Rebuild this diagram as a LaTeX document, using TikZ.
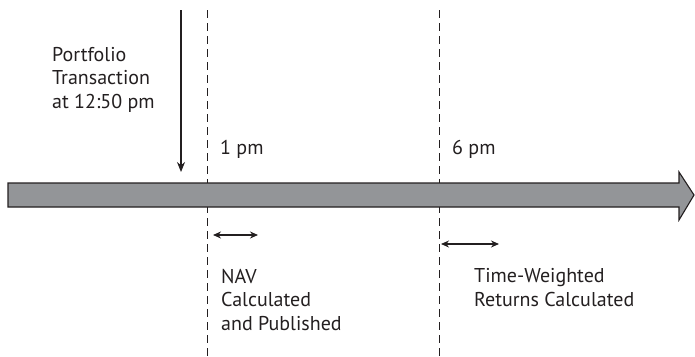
\documentclass[tikz,border=0pt]{standalone}
\usepackage{fontspec}
\setmainfont{PT Sans}
\usetikzlibrary{arrows.meta}
\definecolor{ink}{HTML}{231F20}
\definecolor{bar}{HTML}{939598}
\tikzset{
  lbl/.style={font=\fontsize{20}{23.5}\selectfont, text=ink, inner sep=0pt, align=left, anchor=base west},
  guide/.style={draw=ink, line width=0.9pt, dash pattern=on 8pt off 5pt},
  span/.style={draw=ink, line width=1.2pt, {Stealth[length=8pt,width=7pt]}-{Stealth[length=8pt,width=7pt]}},
}
\begin{document}
\begin{tikzpicture}[x=1pt,y=-1pt]
\useasboundingbox (0,0) rectangle (695,356);
% guides
\coordinate (g1t) at (207,10);
\coordinate (g1b) at (207,356);
\coordinate (g2t) at (439,10);
\coordinate (g2b) at (439,356);
\draw[guide] (g1t) -- (g1b);
\draw[guide] (g2t) -- (g2b);
% timeline arrow
\draw[fill=bar, draw=ink, line width=1.1pt, line join=miter]
  (8,183) -- (679,183) -- (679,172) -- (694,195) -- (679,220) -- (679,207) -- (8,207) -- cycle;
% transaction arrow
\coordinate (ta) at (181,10);
\coordinate (tb) at (181,172);
\draw[draw=ink, line width=1.1pt, -{Stealth[length=10pt,width=8pt]}] (ta) -- (tb);
% labels (base anchor = baseline of last line)
\node[lbl] (port) at (52,108) {Portfolio\\Transaction\\at 12:50 pm};
\node[lbl] (one) at (220,154) {1 pm};
\node[lbl] (six) at (452,154) {6 pm};
\node[lbl] (nav) at (221,330) {NAV\\Calculated\\and Published};
\node[lbl] (twr) at (474,306) {Time-Weighted\\Returns Calculated};
% spans
\coordinate (s1a) at (213,235);
\coordinate (s1b) at (258,235);
\coordinate (s2a) at (441,244);
\coordinate (s2b) at (499,244);
\draw[span] (s1a) -- (s1b);
\draw[span] (s2a) -- (s2b);
\end{tikzpicture}
\end{document}
